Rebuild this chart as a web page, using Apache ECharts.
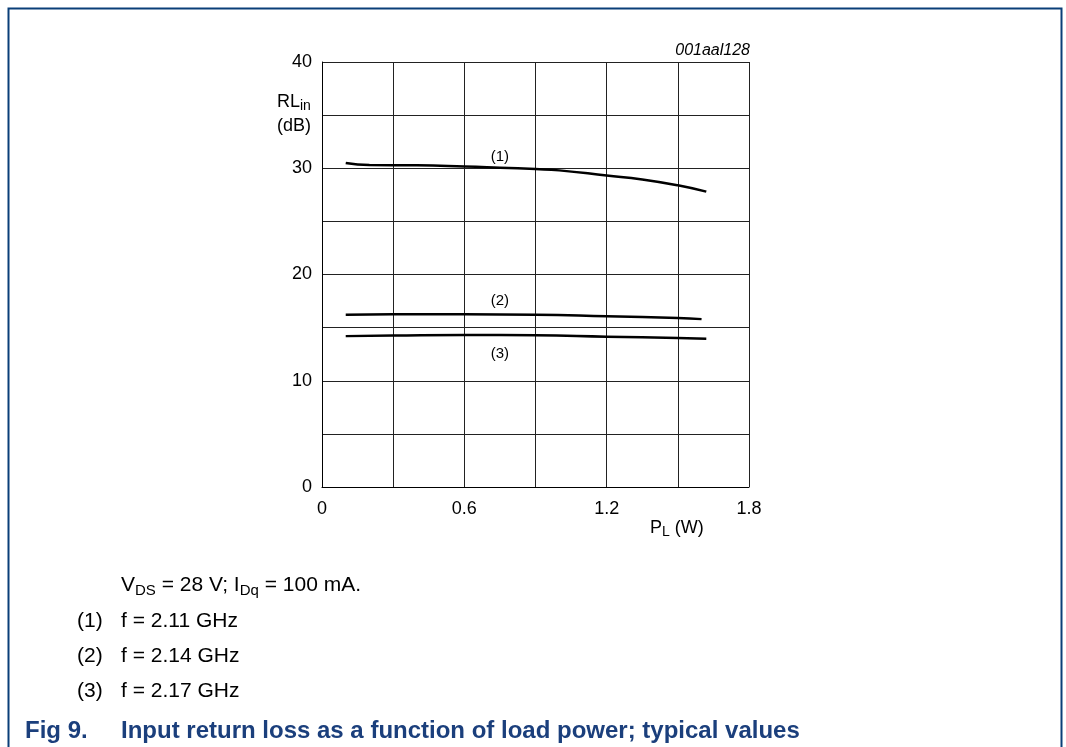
<!DOCTYPE html>
<html>
<head>
<meta charset="utf-8">
<script src="https://cdn.jsdelivr.net/npm/echarts@6/dist/echarts.min.js"></script>
<style>
  html, body { margin: 0; padding: 0; background: #fff; }
  #chart { width: 1066px; height: 747px; }
</style>
</head>
<body>
<div id="chart"></div>
<script>
// load power P_L (W)
const powerF1 = [0.1, 0.2, 0.4, 0.6, 0.75, 0.9, 1.0, 1.2, 1.35, 1.5, 1.62]
const rlF1 = [30.5, 30.3, 30.28, 30.17, 30.05, 29.92, 29.8, 29.32, 28.95, 28.4, 27.8]

const powerF2 = [0.1, 0.3, 0.6, 0.9, 1.2, 1.5, 1.6]
const rlF2 = [16.22, 16.25, 16.25, 16.22, 16.07, 15.9, 15.8]

const powerF3 = [0.1, 0.3, 0.6, 0.9, 1.2, 1.5, 1.62]
const rlF3 = [14.2, 14.25, 14.31, 14.28, 14.15, 14.03, 13.96]

const curveTags = ['(1)', '(2)', '(3)']
const tagSpots = [[0.75, 31.1], [0.75, 17.5], [0.75, 12.5]]

const xTickLabels = ['0', '0.6', '1.2', '1.8']
const yTickLabels = ['0', '10', '20', '30', '40']

const notes = ['f = 2.11 GHz', 'f = 2.14 GHz', 'f = 2.17 GHz']

const FONT = '"Liberation Sans", Arial, sans-serif'
const BLUE = '#1b3f7c'

const pairs = (xs, ys) => xs.map((x, i) => [x, ys[i]])

const makeSeries = (name, data, idx) => ({
  name,
  type: 'line',
  data,
  smooth: true,
  showSymbol: false,
  silent: true,
  lineStyle: { color: '#000', width: 2.5 },
  markPoint: {
    symbol: 'circle',
    symbolSize: 0,
    silent: true,
    label: {
      show: true,
      position: 'inside',
      formatter: curveTags[idx],
      color: '#000',
      fontFamily: FONT,
      fontSize: 15
    },
    data: [{ coord: tagSpots[idx] }]
  }
})

const chart = echarts.init(document.getElementById('chart'))

const noteItems = []
noteItems.push({
  type: 'text',
  left: 121,
  top: 575,
  style: {
    text: '{n|V}{s|DS}{n| = 28 V; I}{s|Dq}{n| = 100 mA.}',
    rich: {
      n: { fontFamily: FONT, fontSize: 21, fill: '#000', height: 25 },
      s: { fontFamily: FONT, fontSize: 15, fill: '#000', padding: [11, 0, 0, 0] }
    }
  }
})
notes.forEach((txt, i) => {
  noteItems.push({
    type: 'text', left: 77, top: 611 + i * 35,
    style: { text: curveTags[i], font: '21px ' + FONT, fill: '#000' }
  })
  noteItems.push({
    type: 'text', left: 121, top: 611 + i * 35,
    style: { text: txt, font: '21px ' + FONT, fill: '#000' }
  })
})

chart.setOption({
  animation: false,
  grid: { left: 322, top: 62, width: 427, height: 425 },
  xAxis: {
    type: 'value',
    min: 0,
    max: 1.8,
    interval: 0.3,
    axisLine: { show: true, lineStyle: { color: '#000', width: 1 } },
    axisTick: { show: false },
    splitLine: { show: true, lineStyle: { color: '#222', width: 1 } },
    axisLabel: {
      color: '#000',
      fontFamily: FONT,
      fontSize: 18,
      margin: 13,
      formatter: (v) => {
        const s = String(Math.round(v * 10) / 10)
        return xTickLabels.includes(s) ? s : ''
      }
    }
  },
  yAxis: {
    type: 'value',
    min: 0,
    max: 40,
    interval: 5,
    axisLine: { show: true, lineStyle: { color: '#000', width: 1 } },
    axisTick: { show: false },
    splitLine: { show: true, lineStyle: { color: '#222', width: 1 } },
    axisLabel: {
      color: '#000',
      fontFamily: FONT,
      fontSize: 18,
      margin: 10,
      formatter: (v) => (yTickLabels.includes(String(v)) ? String(v) : '')
    }
  },
  graphic: [
    // frame
    {
      type: 'polyline',
      shape: { points: [[8.5, 747], [8.5, 8.5], [1061.5, 8.5], [1061.5, 747]] },
      style: { stroke: '#0a3f78', lineWidth: 2, fill: null }
    },
    {
      type: 'text', right: 316, top: 43,
      style: { text: '001aal128', font: 'italic 16px ' + FONT, fill: '#000' }
    },
    {
      type: 'text', left: 277, top: 93,
      style: {
        text: '{n|RL}{s|in}\n{n|(dB)}',
        rich: {
          n: { fontFamily: FONT, fontSize: 18, fill: '#000', height: 24 },
          s: { fontFamily: FONT, fontSize: 14, fill: '#000', padding: [9, 0, 0, 0] }
        }
      }
    },
    {
      type: 'text', left: 650, top: 519,
      style: {
        text: '{n|P}{s|L}{n| (W)}',
        rich: {
          n: { fontFamily: FONT, fontSize: 18, fill: '#000', height: 22 },
          s: { fontFamily: FONT, fontSize: 14, fill: '#000', padding: [9, 0, 0, 0] }
        }
      }
    },
    ...noteItems,
    {
      type: 'text', left: 25, top: 719,
      style: { text: 'Fig 9.', font: 'bold 24px ' + FONT, fill: BLUE }
    },
    {
      type: 'text', left: 121, top: 719,
      style: { text: 'Input return loss as a function of load power; typical values', font: 'bold 24px ' + FONT, fill: BLUE }
    }
  ],
  series: [
    makeSeries('2.11 GHz', pairs(powerF1, rlF1), 0),
    makeSeries('2.14 GHz', pairs(powerF2, rlF2), 1),
    makeSeries('2.17 GHz', pairs(powerF3, rlF3), 2)
  ]
})
</script>
</body>
</html>
